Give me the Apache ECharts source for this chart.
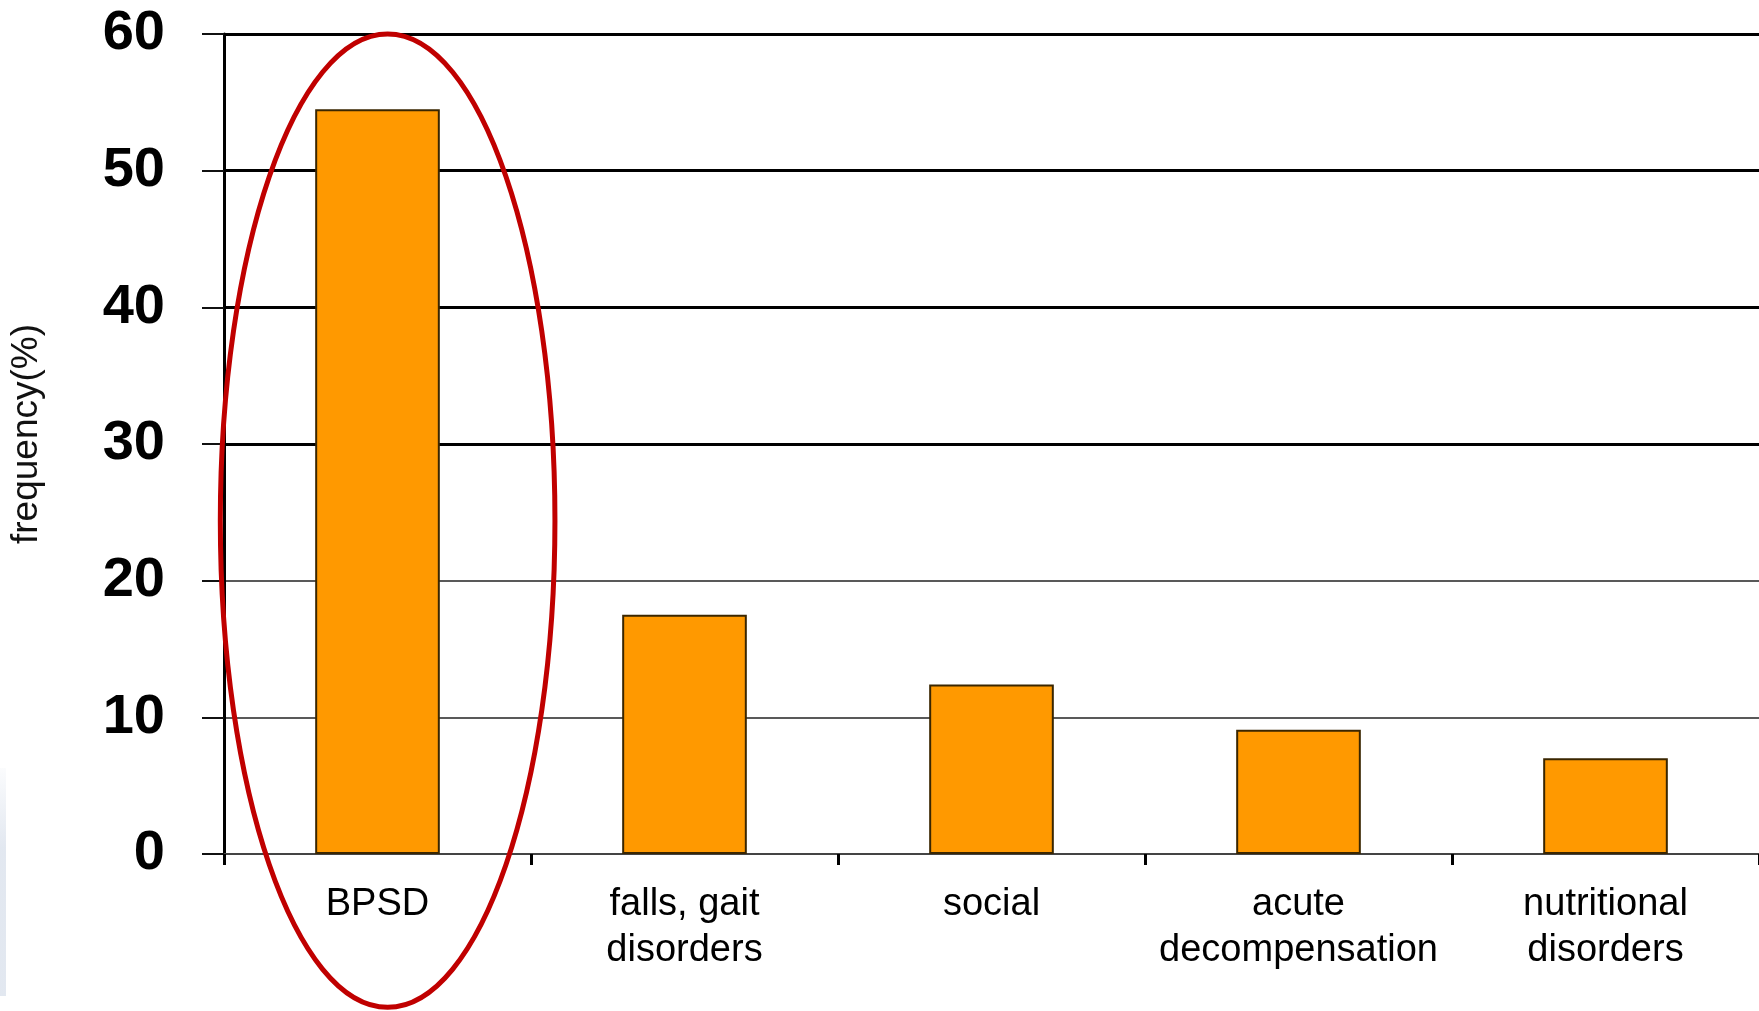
<!DOCTYPE html>
<html>
<head>
<meta charset="utf-8">
<title>frequency(%)</title>
<script src="https://cdn.jsdelivr.net/npm/echarts@6/dist/echarts.min.js"></script>
<style>
  html, body { margin: 0; padding: 0; background: #ffffff; }
  #chart { width: 1759px; height: 1011px; }
</style>
</head>
<body>
<div id="chart"></div>
<script>
// Categories shown along the x axis
const categories = [
  'BPSD',
  'falls, gait\ndisorders',
  'social',
  'acute\ndecompensation',
  'nutritional\ndisorders'
];

// Frequency (%) per category
const frequency = [54.5, 17.5, 12.4, 9.1, 7.0];

// Value axis range and step
const yMin = 0;
const yMax = 60;
const yStep = 10;

// Upper grid lines drawn heavier
const heavyGridValues = [30, 40, 50, 60];

const FONT = '"Liberation Sans", Arial, Helvetica, sans-serif';

const chart = echarts.init(document.getElementById('chart'), null, { renderer: 'canvas' });

const option = {
  animation: false,
  backgroundColor: '#ffffff',
  grid: {
    left: 222,
    top: 34,
    width: 1541,
    height: 820,
    containLabel: false
  },
  xAxis: {
    type: 'category',
    data: categories,
    boundaryGap: true,
    axisLine: { show: true, lineStyle: { color: '#444444', width: 2 } },
    axisTick: {
      show: true,
      alignWithLabel: false,
      length: 11,
      lineStyle: { color: '#000000', width: 3 }
    },
    axisLabel: {
      interval: 0,
      margin: 28,
      color: '#000000',
      fontFamily: FONT,
      fontSize: 38,
      lineHeight: 46
    },
    splitLine: { show: false }
  },
  yAxis: {
    type: 'value',
    min: yMin,
    max: yMax,
    interval: yStep,
    name: 'frequency(%)',
    nameLocation: 'middle',
    nameRotate: 90,
    nameGap: 179,
    nameTextStyle: {
      color: '#111111',
      fontFamily: FONT,
      fontSize: 37,
      padding: [0, 0, 0, 20]
    },
    axisLine: { show: true, lineStyle: { color: '#000000', width: 3 } },
    axisTick: {
      show: true,
      inside: false,
      length: 22,
      lineStyle: { color: '#111111', width: 2 }
    },
    axisLabel: {
      margin: 59,
      color: '#000000',
      fontFamily: FONT,
      fontWeight: 'bold',
      fontSize: 56
    },
    splitLine: {
      show: true,
      lineStyle: { color: '#222222', width: 1.6 }
    }
  },
  series: [
    {
      type: 'bar',
      data: frequency,
      barWidth: '40.6%',
      z: 3,
      itemStyle: {
        color: '#ff9900',
        borderColor: '#3a2600',
        borderWidth: 2
      },
      markLine: {
        silent: true,
        z: 1,
        symbol: 'none',
        label: { show: false },
        lineStyle: { type: 'solid', color: '#000000', width: 3 },
        data: heavyGridValues.map(v => ({ yAxis: v }))
      }
    }
  ]
};

chart.setOption(option);

// Highlight ring around the first category, sized from the axis scales
function drawHighlight() {
  const c0 = chart.convertToPixel({ gridIndex: 0 }, [0, yMax]);
  const c1 = chart.convertToPixel({ gridIndex: 0 }, [1, yMin]);
  const band = c1[0] - c0[0];
  const yTop = c0[1];
  const yZero = chart.convertToPixel({ gridIndex: 0 }, [0, yMin])[1];
  const yBottom = yZero + 0.187 * (yZero - yTop);
  const cx = c0[0] + 0.033 * band;
  const cy = (yTop + yBottom) / 2;
  const rx = 0.545 * band;
  const ry = (yBottom - yTop) / 2;

  chart.setOption({
    graphic: [
      {
        type: 'rect',
        left: 0,
        top: 768,
        shape: { width: 6, height: 228 },
        style: {
          fill: new echarts.graphic.LinearGradient(0, 0, 0, 1, [
            { offset: 0, color: 'rgba(214,222,234,0.1)' },
            { offset: 0.35, color: 'rgba(214,222,234,0.7)' },
            { offset: 1, color: 'rgba(214,222,234,0.7)' }
          ])
        },
        silent: true,
        z: 0
      },
      {
        type: 'ellipse',
        shape: { cx: cx, cy: cy, rx: rx, ry: ry },
        style: { fill: 'none', stroke: '#c00000', lineWidth: 5 },
        silent: true,
        z: 10
      }
    ]
  });
}

drawHighlight();
</script>
</body>
</html>
